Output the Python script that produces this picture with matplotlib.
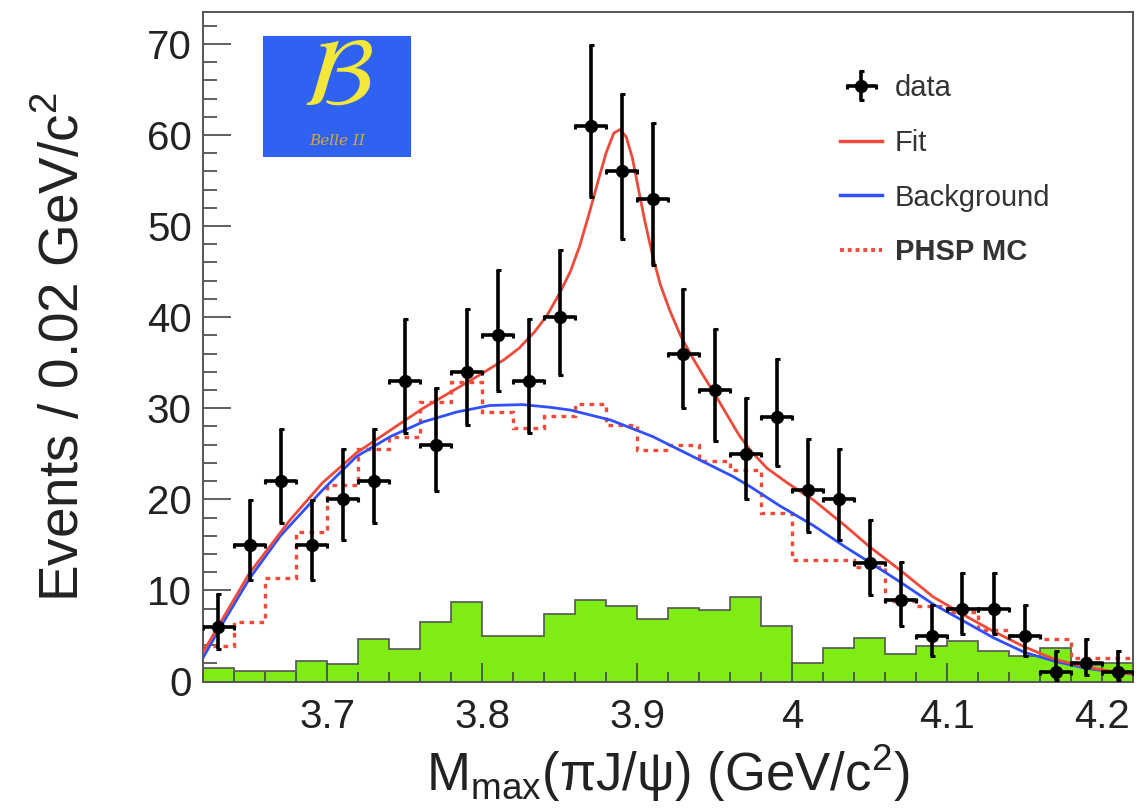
import matplotlib
matplotlib.use("Agg")
import matplotlib.pyplot as plt
import numpy as np
from matplotlib.lines import Line2D
from matplotlib.ticker import MultipleLocator, FuncFormatter

plt.rcParams['font.family'] = ['Liberation Sans', 'DejaVu Sans']

# --- binning: 30 bins of 0.02 GeV from 3.62 ---
x_lo = 3.62
bin_w = 0.02
n_bins = 30

# --- data (counts per bin) with asymmetric Poisson errors ---
counts = [6, 15, 22, 15, 20, 22, 33, 26, 34, 38, 33, 40, 61, 56, 53,
          36, 32, 25, 29, 21, 20, 13, 9, 5, 8, 8, 5, 1, 2, 1]
err_lo = [2.38, 3.83, 4.65, 3.83, 4.43, 4.65, 5.71, 5.06, 5.80, 6.13, 5.71, 6.30, 7.79, 7.46, 7.25,
          5.97, 5.62, 4.96, 5.35, 4.54, 4.43, 3.55, 2.94, 2.16, 2.76, 2.76, 2.16, 0.83, 1.29, 0.83]
err_hi = [3.60, 4.97, 5.77, 4.97, 5.56, 5.77, 6.81, 6.17, 6.89, 7.22, 6.81, 7.38, 8.86, 8.53, 8.33,
          7.06, 6.72, 6.07, 6.45, 5.66, 5.56, 4.71, 4.12, 3.40, 3.96, 3.96, 3.40, 2.32, 2.66, 2.32]

# --- green (sideband) histogram ---
sideband = [1.5, 1.2, 1.2, 2.2, 1.9, 4.7, 3.6, 6.5, 8.7, 5.0, 5.0, 7.4, 9.0, 8.3, 6.9,
            8.1, 7.9, 9.3, 6.1, 2.0, 3.7, 4.8, 3.0, 3.9, 4.5, 3.4, 2.8, 3.7, 1.8, 2.0]

# --- PHSP MC histogram ---
phsp = [3.9, 6.5, 11.4, 16.4, 21.6, 25.5, 26.8, 30.7, 32.9, 29.6, 27.8, 29.1, 30.5, 28.2, 25.4,
        26.0, 24.2, 23.2, 18.5, 13.3, 13.3, 12.6, 8.8, 8.3, 7.6, 5.7, 5.0, 4.7, 2.6, 2.6]

# --- background curve ---
bkg_x = [3.620, 3.631, 3.650, 3.670, 3.697, 3.719, 3.741, 3.762, 3.784, 3.805, 3.826, 3.844,
         3.857, 3.883, 3.910, 3.936, 3.962, 3.973, 3.992, 4.014, 4.035, 4.050, 4.070, 4.091,
         4.110, 4.130, 4.150, 4.170, 4.190, 4.210, 4.220]
bkg_y = [2.6, 5.9, 11.3, 16.0, 21.0, 24.7, 26.9, 28.5, 29.6, 30.3, 30.4, 30.1,
         29.8, 28.7, 26.9, 24.7, 22.5, 21.4, 19.3, 17.1, 14.7, 13.1, 10.9, 8.5,
         6.7, 4.8, 3.2, 2.2, 1.45, 0.97, 0.8]

# --- total fit curve ---
fit_x = [3.620, 3.631, 3.650, 3.676, 3.697, 3.719, 3.741, 3.762, 3.784, 3.799, 3.814, 3.824,
         3.834, 3.842, 3.850, 3.857, 3.863, 3.869, 3.875, 3.880, 3.885, 3.889, 3.893, 3.897,
         3.901, 3.905, 3.910, 3.915, 3.921, 3.928, 3.935, 3.942, 3.950, 3.958, 3.966, 3.974,
         3.984, 3.997, 4.014, 4.035, 4.050, 4.070, 4.091, 4.113, 4.130, 4.150, 4.170, 4.190,
         4.210, 4.220]
fit_y = [3.2, 6.4, 11.9, 17.7, 21.8, 25.1, 27.6, 30.0, 32.2, 33.7, 35.3, 36.6,
         38.4, 40.2, 42.6, 45.0, 47.8, 51.3, 55.0, 58.0, 60.2, 60.6, 59.8, 57.5,
         54.0, 50.6, 46.8, 43.6, 40.8, 38.0, 35.8, 33.8, 31.6, 29.3, 27.0, 25.2,
         23.4, 21.8, 19.9, 17.0, 14.8, 12.2, 9.3, 7.1, 5.5, 3.8, 2.4, 1.6,
         1.0, 0.85]

edges = x_lo + bin_w * np.arange(n_bins + 1)
centers = 0.5 * (edges[:-1] + edges[1:])

red = '#ef4a3a'
blue = '#3050ff'
green = '#80ec16'
txt = '#222222'

fig = plt.figure(figsize=(11.41, 8.08), dpi=100)
ax = fig.add_axes([203 / 1141, 1 - 681.5 / 808, 930 / 1141, 669.5 / 808])

ax.stairs(sideband, edges, fill=True, color=green, zorder=1)
ax.stairs(sideband, edges, color='#555555', lw=1.2, zorder=1.5)
ax.stairs(phsp, edges, baseline=None, color=red, lw=2.4, linestyle=(0, (1.4, 1.6)), zorder=2)
ax.plot(bkg_x, bkg_y, color=blue, lw=2.0, zorder=3)
ax.plot(fit_x, fit_y, color=red, lw=2.0, zorder=4)
eb = ax.errorbar(centers, counts, yerr=[err_lo, err_hi], xerr=bin_w / 2, fmt='o', color='black',
                 ms=8.5, elinewidth=2.6, capsize=1.8, capthick=2.2, zorder=5)

ax.set_xlim(x_lo, x_lo + bin_w * n_bins)
ax.set_ylim(0, 73.5)

ax.xaxis.set_major_locator(MultipleLocator(0.1))
ax.xaxis.set_minor_locator(MultipleLocator(0.02))
ax.yaxis.set_major_locator(MultipleLocator(10))
ax.yaxis.set_minor_locator(MultipleLocator(2))
ax.xaxis.set_major_formatter(FuncFormatter(lambda v, p: '%g' % round(v, 2)))
ax.tick_params(axis='both', which='both', direction='in', color='#444444', width=1.2,
               labelcolor=txt, labelsize=29)
ax.tick_params(axis='y', which='major', length=20, pad=8)
ax.tick_params(axis='y', which='minor', length=10)
ax.tick_params(axis='x', which='major', length=14, pad=12)
ax.tick_params(axis='x', which='minor', length=7)
for s in ax.spines.values():
    s.set_color('#555555')
    s.set_linewidth(1.4)

ax.set_xlabel(r'M$_{\mathregular{max}}$(πJ/ψ) (GeV/c$^{\mathregular{2}}$)', fontsize=38, color=txt,
              labelpad=4)
ax.set_ylabel(r'Events / 0.02 GeV/c$^{\mathregular{2}}$', fontsize=39.5, color=txt, labelpad=40)

# legend
h_fit = Line2D([], [], color=red, lw=2.5)
h_bkg = Line2D([], [], color=blue, lw=2.5)
h_mc = Line2D([], [], color=red, lw=2.8, linestyle=(0, (1.0, 1.0)))
leg = ax.legend([eb, h_fit, h_bkg, h_mc], ['data', 'Fit', 'Background', 'PHSP MC'],
                loc='upper left', bbox_to_anchor=(840 / 1141, 1 - 74 / 808),
                bbox_transform=fig.transFigure, frameon=False, fontsize=21,
                labelspacing=0.92, handlelength=1.45, handletextpad=0.42,
                borderpad=0, borderaxespad=0)
for t in leg.get_texts():
    t.set_color('#333333')
leg.get_texts()[3].set_fontweight('bold')

# Belle II logo
lax = fig.add_axes([263 / 1141, 1 - 157 / 808, 148 / 1141, 121 / 808])
lax.set_facecolor('#2f62f0')
lax.set_xticks([])
lax.set_yticks([])
for s in lax.spines.values():
    s.set_visible(False)
lax.text(0.5, 0.64, r'$\mathcal{B}$', math_fontfamily='stix', fontsize=70, color='#f3e83a',
         ha='center', va='center', transform=lax.transAxes)
lax.text(0.5, 0.13, 'Belle II', fontsize=11, style='italic', color='#d9a83c',
         ha='center', va='center', transform=lax.transAxes, family='DejaVu Serif')

fig.savefig('out.png', dpi=100)
